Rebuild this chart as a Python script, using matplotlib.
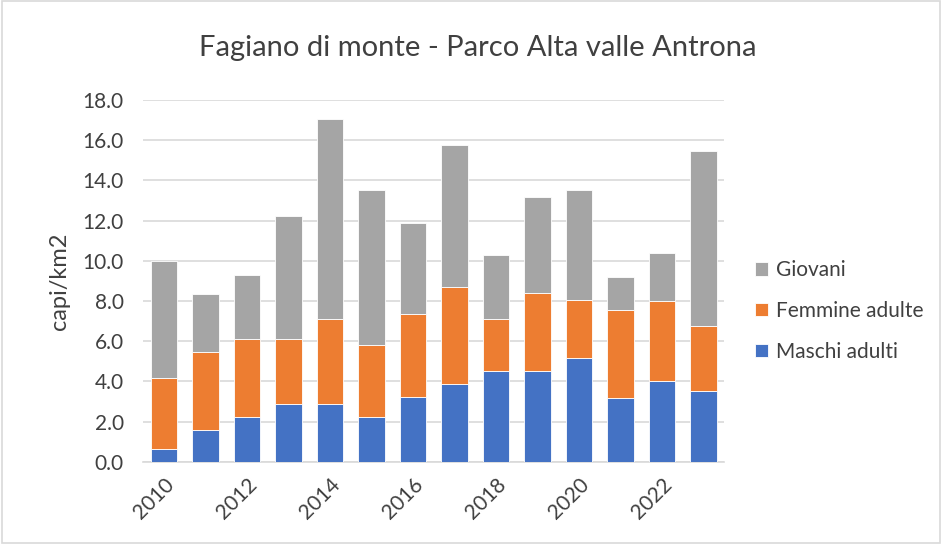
import matplotlib
matplotlib.use("Agg")
import matplotlib.pyplot as plt
import numpy as np
from matplotlib.patches import Rectangle

years = [2010, 2011, 2012, 2013, 2014, 2015, 2016, 2017, 2018, 2019, 2020, 2021, 2022, 2023]
maschi = [0.65, 1.59, 2.24, 2.88, 2.88, 2.24, 3.23, 3.86, 4.50, 4.50, 5.15, 3.18, 4.01, 3.51]
femmine = [3.52, 3.86, 3.87, 3.23, 4.21, 3.55, 4.15, 4.82, 2.59, 3.88, 2.88, 4.40, 3.97, 3.23]
giovani = [5.83, 2.91, 3.21, 6.11, 9.95, 7.74, 4.51, 7.08, 3.19, 4.80, 5.50, 1.61, 2.40, 8.72]
tick_labels = ["2010", "", "2012", "", "2014", "", "2016", "", "2018", "", "2020", "", "2022", ""]

font = "Lato"
plt.rcParams['font.family'] = [font, 'DejaVu Sans']

fig = plt.figure(figsize=(9.42, 5.44), dpi=100)
ax = fig.add_axes([0.152, 0.151, 0.617, 0.665])

x = np.arange(len(years))
w = 0.64
c_blue, c_orange, c_gray = "#4472C4", "#ED7D31", "#A5A5A5"
txt = "#404040"
m = np.array(maschi)
f = np.array(femmine)
g = np.array(giovani)
b1 = ax.bar(x, m, w, color=c_blue, edgecolor="white", linewidth=0.6, label="Maschi adulti", zorder=3)
b2 = ax.bar(x, f, w, bottom=m, color=c_orange, edgecolor="white", linewidth=0.6, label="Femmine adulte", zorder=3)
b3 = ax.bar(x, g, w, bottom=m + f, color=c_gray, edgecolor="white", linewidth=0.6, label="Giovani", zorder=3)

ax.set_xlim(-0.5, len(years) - 0.5)
ax.set_ylim(0, 18)
yt = np.arange(0, 18.1, 2)
ax.set_yticks(yt)
ax.set_yticklabels([f"{v:.1f}" for v in yt], fontsize=15, color=txt)
ax.set_xticks(x)
ax.set_xticklabels(tick_labels, rotation=45, ha="right", rotation_mode="anchor", fontsize=15, color=txt)
ax.tick_params(axis="y", length=0, pad=14)
ax.tick_params(axis="x", length=0, pad=9)
ax.grid(axis="y", color="#d9d9d9", linewidth=1.2, zorder=0)
for s in ["top", "right", "left"]:
    ax.spines[s].set_visible(False)
ax.spines["bottom"].set_color("#d9d9d9")
ax.spines["bottom"].set_linewidth(1.2)
ax.set_ylabel("capi/km2", fontsize=17, color=txt, labelpad=9)

fig.text(0.507, 0.912, "Fagiano di monte - Parco Alta valle Antrona", fontsize=21, color=txt,
         ha="center", va="center")

handles = [b3, b2, b1]
labels = ["Giovani", "Femmine adulte", "Maschi adulti"]
fig.legend(handles, labels, loc="center left", bbox_to_anchor=(0.802, 0.428), frameon=False,
           fontsize=15, labelcolor=txt, handlelength=0.6, handleheight=0.6,
           labelspacing=1.0, handletextpad=0.4, borderaxespad=0, borderpad=0)

fig.patches.append(Rectangle((0.002, 0.002), 0.996, 0.996, transform=fig.transFigure,
                             fill=False, edgecolor="#d9d9d9", linewidth=1.2))

fig.savefig("out.png", dpi=100, facecolor="white")
